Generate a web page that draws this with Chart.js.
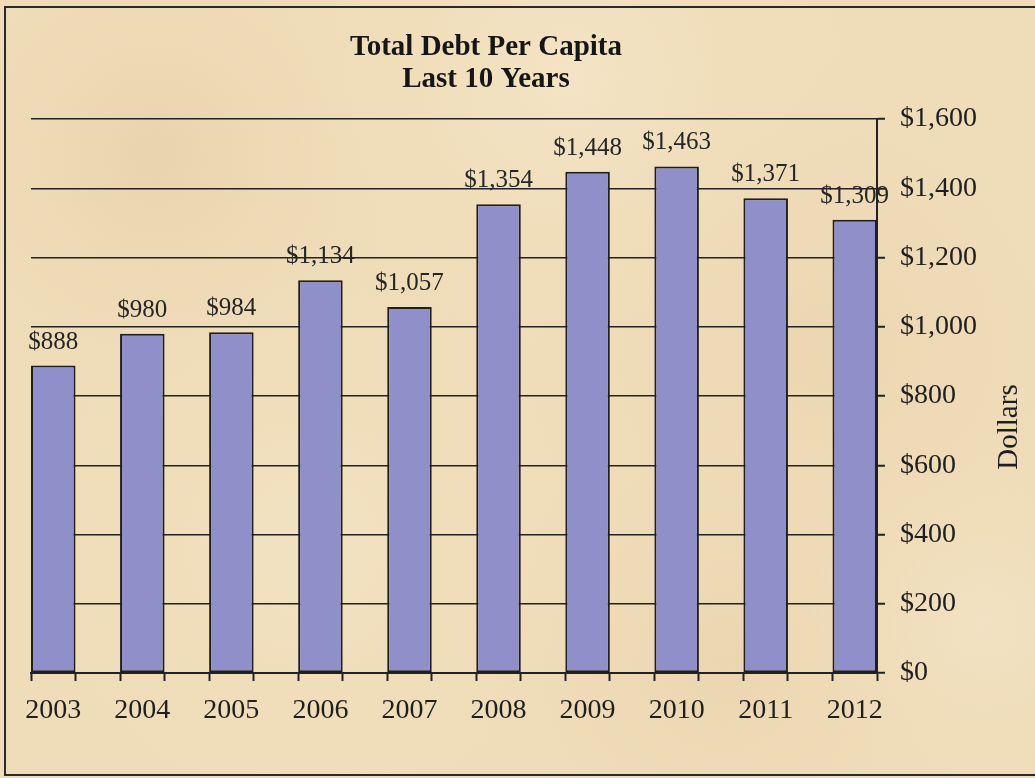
<!DOCTYPE html>
<html>
<head>
<meta charset="utf-8">
<title>Total Debt Per Capita</title>
<script src="https://cdn.jsdelivr.net/npm/chart.js@4/dist/chart.umd.min.js"></script>
<style>
    html, body { margin: 0; padding: 0; overflow: hidden; background: #eedcb8; }
    canvas { display: block; }
</style>
</head>
<body>
<canvas id="debtChart" width="1035" height="778"></canvas>
<script>
// Chart data
const years = ['2003', '2004', '2005', '2006', '2007', '2008', '2009', '2010', '2011', '2012'];
const debtPerCapita = [888, 980, 984, 1134, 1057, 1354, 1448, 1463, 1371, 1309];
const yTicks = [0, 200, 400, 600, 800, 1000, 1200, 1400, 1600];
const titleLines = ['Total Debt Per Capita', 'Last 10 Years'];
const yAxisTitle = 'Dollars';

const serif = "'Liberation Serif', 'Times New Roman', serif";
const ink = '#1f1f1f';

function money(v) {
    return '$' + Number(v).toLocaleString('en-US');
}

// Parchment background and frame
const parchment = {
    id: 'parchment',
    beforeDraw(chart) {
        const ctx = chart.ctx;
        const w = chart.width, h = chart.height;
        ctx.save();
        ctx.fillStyle = '#efdcb8';
        ctx.fillRect(0, 0, w, h);
        const spots = [
            [0.15, 0.2, 0.25, 'rgba(226,200,160,0.45)'],
            [0.55, 0.1, 0.3, 'rgba(248,236,210,0.5)'],
            [0.8, 0.45, 0.3, 'rgba(230,205,168,0.4)'],
            [0.3, 0.7, 0.3, 'rgba(246,232,204,0.5)'],
            [0.7, 0.85, 0.25, 'rgba(228,204,165,0.4)'],
            [0.95, 0.8, 0.2, 'rgba(244,232,205,0.5)']
        ];
        spots.forEach(([fx, fy, fr, col]) => {
            const g = ctx.createRadialGradient(fx * w, fy * h, 0, fx * w, fy * h, fr * w);
            g.addColorStop(0, col);
            g.addColorStop(1, 'rgba(239,220,184,0)');
            ctx.fillStyle = g;
            ctx.fillRect(0, 0, w, h);
        });
        ctx.strokeStyle = '#2a2a2a';
        ctx.lineWidth = 2;
        ctx.strokeRect(5, 7, w + 10, h - 10);
        ctx.restore();
    }
};

// Title, value labels and the right-hand axis title
const annotations = {
    id: 'annotations',
    afterDraw(chart) {
        const ctx = chart.ctx;
        const area = chart.chartArea;
        ctx.save();

        // Title
        ctx.fillStyle = '#161616';
        ctx.font = 'bold 29px ' + serif;
        ctx.textAlign = 'center';
        ctx.textBaseline = 'middle';
        titleLines.forEach((line, i) => {
            ctx.fillText(line, 486, 48 + i * 32);
        });

        // Value labels over the bars
        ctx.font = '25px ' + serif;
        ctx.fillStyle = '#262626';
        ctx.textBaseline = 'alphabetic';
        const meta = chart.getDatasetMeta(0);
        meta.data.forEach((bar, i) => {
            ctx.fillText(money(debtPerCapita[i]), bar.x, bar.y - 17);
        });

        // Axis title, reading bottom to top
        ctx.font = '29px ' + serif;
        ctx.fillStyle = ink;
        ctx.textBaseline = 'middle';
        ctx.translate(area.right + 132, 427);
        ctx.rotate(-Math.PI / 2);
        ctx.fillText(yAxisTitle, 0, 0);
        ctx.restore();
    }
};

document.addEventListener('DOMContentLoaded', function() {
    const ctx = document.getElementById('debtChart').getContext('2d');
    new Chart(ctx, {
        type: 'bar',
        data: {
            datasets: [{
                data: debtPerCapita.map((v, i) => ({ x: i, y: v })),
                backgroundColor: '#8f8fc9',
                borderColor: '#1e1e1e',
                borderWidth: 2,
                borderSkipped: false,
                // the quarter-step tick marks set the sample size, so double it:
                // bar = half of one year slot
                categoryPercentage: 1,
                barPercentage: 2
            }]
        },
        options: {
            responsive: false,
            animation: false,
            devicePixelRatio: 1,
            layout: {
                padding: { left: 31, top: 119, right: 0, bottom: 0 }
            },
            plugins: {
                legend: { display: false },
                tooltip: { enabled: false },
                title: { display: false }
            },
            scales: {
                x: {
                    type: 'linear',
                    min: -0.25,
                    max: years.length - 0.75,
                    offset: false,
                    afterBuildTicks(scale) {
                        const ticks = [];
                        years.forEach((y, i) => {
                            ticks.push({ value: i - 0.25 }, { value: i }, { value: i + 0.25 });
                        });
                        scale.ticks = ticks;
                    },
                    afterFit(scale) {
                        scale.height = 105;
                    },
                    ticks: {
                        autoSkip: false,
                        maxRotation: 0,
                        padding: 13,
                        color: ink,
                        font: { family: serif, size: 28 },
                        callback: function(value) {
                            return Number.isInteger(value) ? years[value] : '';
                        }
                    },
                    grid: {
                        offset: false,
                        drawOnChartArea: false,
                        tickLength: 8,
                        tickWidth: 2,
                        tickColor: function(c) {
                            return c.tick && Number.isInteger(c.tick.value) ? 'rgba(0,0,0,0)' : '#222';
                        }
                    },
                    border: { display: true, color: '#222', width: 2 }
                },
                y: {
                    position: 'right',
                    min: yTicks[0],
                    max: yTicks[yTicks.length - 1],
                    afterBuildTicks(scale) {
                        scale.ticks = yTicks.map(v => ({ value: v }));
                    },
                    afterFit(scale) {
                        scale.width = 158;
                    },
                    ticks: {
                        padding: 15,
                        color: ink,
                        font: { family: serif, size: 28 },
                        callback: function(value) {
                            return money(value);
                        }
                    },
                    grid: {
                        color: '#222',
                        lineWidth: 1.5,
                        tickLength: 8,
                        tickWidth: 2,
                        tickColor: '#222'
                    },
                    border: { display: true, color: '#222', width: 2 }
                }
            }
        },
        plugins: [parchment, annotations]
    });
});
</script>
</body>
</html>
